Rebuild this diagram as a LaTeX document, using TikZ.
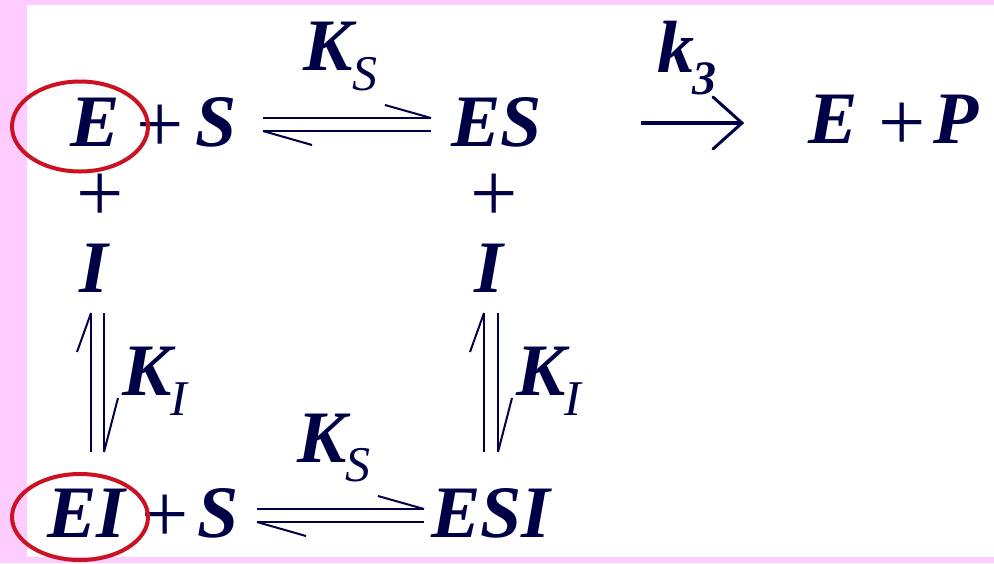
\documentclass[tikz,border=0pt]{standalone}
\usepackage{fontspec}
\setmainfont{Liberation Serif}
\definecolor{navy}{RGB}{0,0,70}
\definecolor{pinkbg}{RGB}{255,204,255}
\definecolor{ringred}{RGB}{204,17,34}
\begin{document}
\begin{tikzpicture}[x=1pt,y=-1pt,
  big/.style={inner sep=0, anchor=base west, text=navy, font=\bfseries\itshape\fontsize{74}{74}\selectfont},
  sub/.style={inner sep=0, anchor=base west, text=navy, font=\itshape\fontsize{50}{50}\selectfont},
  subb/.style={inner sep=0, anchor=base west, text=navy, font=\bfseries\itshape\fontsize{48}{48}\selectfont},
  plus/.style={inner sep=0, anchor=base, text=navy, text height=0.5em, text depth=0pt, font=\fontsize{84}{84}\selectfont},
  rline/.style={navy, line width=2.2pt},
  barb/.style={navy, line width=2pt},
  ring/.style={ringred, line width=4pt}]
\useasboundingbox (0,0) rectangle (994,563);
\fill[pinkbg] (0,0) rectangle (994,563);
\fill[white] (27,5) rectangle (994,557);
% top row
\node[big] (E1) at (70,146) {E};
\node[plus] (p1) at (160,152) {+};
\node[big] (S1) at (195,146) {S};
\node[big] (ES) at (451,146) {ES};
\node[big] (Ks1) at (303,70) {K};
\node[sub] (Ks1s) at (352,90) {S};
\node[big] (k3) at (657,72) {k};
\node[subb] (k3s) at (692,94) {3};
\node[big] (E2) at (808,143) {E};
\node[plus] (p2) at (902,150) {+};
\node[big] (P) at (933,143) {P};
% middle
\node[plus] (p3) at (100,221) {+};
\node[big] (I1) at (79,292) {I};
\node[plus] (p4) at (494,221) {+};
\node[big] (I2) at (474,292) {I};
\node[big] (Ki1) at (122,395) {K};
\node[sub] (Ki1s) at (170,415) {I};
\node[big] (Ki2) at (516,395) {K};
\node[sub] (Ki2s) at (564,415) {I};
% bottom row
\node[big] (EI) at (47,537) {EI};
\node[plus] (p5) at (165,542) {+};
\node[big] (S2) at (197,537) {S};
\node[big] (ESI) at (431,537) {ESI};
\node[big] (Ks2) at (297,462) {K};
\node[sub] (Ks2s) at (345,481) {S};
% connector endpoints
\coordinate (ha1) at (263,118); \coordinate (hb1) at (431,118);
\coordinate (hc1) at (263,131); \coordinate (hd1) at (431,131);
\coordinate (ha2) at (257,509); \coordinate (hb2) at (424,509);
\coordinate (hc2) at (257,522); \coordinate (hd2) at (424,522);
\coordinate (va1) at (91,313); \coordinate (vb1) at (91,452);
\coordinate (vc1) at (104,313); \coordinate (vd1) at (104,452);
\coordinate (va2) at (484,313); \coordinate (vb2) at (484,452);
\coordinate (vc2) at (498,313); \coordinate (vd2) at (498,452);
\coordinate (k3a) at (641,123); \coordinate (k3b) at (742,123);
% top harpoons
\draw[rline] (ha1) -- (hb1);
\draw[barb] (hb1) -- ++(-46,-13);
\draw[rline] (hc1) -- (hd1);
\draw[barb] (hc1) -- ++(49,14);
% bottom harpoons
\draw[rline] (ha2) -- (hb2);
\draw[barb] (hb2) -- ++(-46,-13);
\draw[rline] (hc2) -- (hd2);
\draw[barb] (hc2) -- ++(49,14);
% left vertical
\draw[rline, line width=2.8pt] (va1) -- (vb1);
\draw[barb] (va1) -- ++(-14,39);
\draw[rline, line width=2.8pt] (vc1) -- (vd1);
\draw[barb] (vd1) -- ++(14,-54);
% right vertical
\draw[rline, line width=2.8pt] (va2) -- (vb2);
\draw[barb] (va2) -- ++(-14,39);
\draw[rline, line width=2.8pt] (vc2) -- (vd2);
\draw[barb] (vd2) -- ++(14,-54);
% k3 arrow
\draw[navy, line width=4.5pt] (k3a) -- ([xshift=-2pt]k3b);
\draw[navy, line width=3pt, line cap=round, line join=miter] (713,97) -- (k3b) -- (713,149);
% red rings
\draw[ring] (80,126.5) ellipse [x radius=68, y radius=45];
\draw[ring] (80,517) ellipse [x radius=68, y radius=43];
\end{tikzpicture}
\end{document}
